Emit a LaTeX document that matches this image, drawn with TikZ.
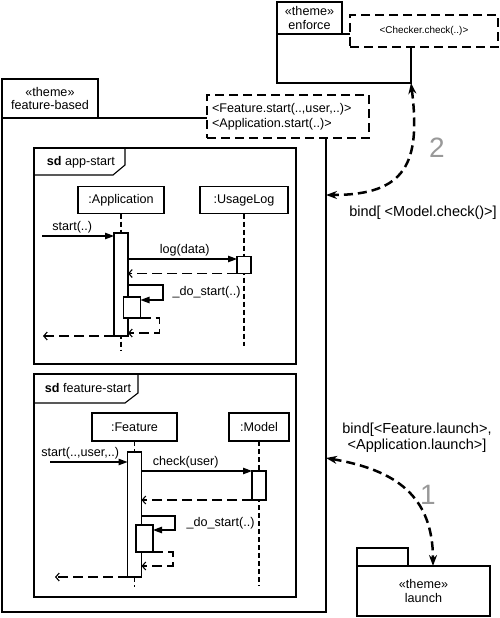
\documentclass[tikz,border=0pt]{standalone}
\usepackage{fontspec}
\setmainfont{Liberation Sans}
\usetikzlibrary{arrows.meta, positioning}

\begin{document}
\begin{tikzpicture}[
  x=1pt, y=-1pt,
  font=\fontsize{12.6}{13.5}\selectfont,
  line width=1.1pt,
  pkgtab/.style={draw, anchor=north west, inner sep=0pt, outer sep=0pt, align=center},
  pkgbody/.style={draw, anchor=north west, inner sep=0pt, outer sep=0pt, align=center},
  bindbox/.style={draw, line width=1.7pt, dash pattern=on 9pt off 5pt, fill=white, anchor=north west, outer sep=0pt},
  frame/.style={draw, anchor=north west, inner sep=0pt, outer sep=0pt},
  head/.style={draw, fill=white, inner sep=0pt, outer sep=0pt, minimum height=27pt},
  actbar/.style={draw, fill=white, inner sep=0pt, outer sep=0pt, minimum width=14pt},
  lifeline/.style={line width=1.3pt, dash pattern=on 5pt off 3pt},
  call/.style={-{Triangle[length=9pt, width=6.5pt]}},
  reply/.style={line width=1.4pt, dash pattern=on 10pt off 5pt, -{Straight Barb[length=3.5pt, width=8pt, line width=1.1pt]}},
  mlab/.style={inner sep=2pt},
  bindarrow/.style={line width=2.5pt, dash pattern=on 9pt off 5pt, {Stealth[length=11pt, width=8pt]}-{Stealth[length=11pt, width=8pt]}},
  bindlab/.style={font=\fontsize{14.5}{16}\selectfont, align=center},
  stepnum/.style={font=\fontsize{28}{28}\selectfont, text=black!40}
]
\useasboundingbox (0,0) rectangle (500,618);

% theme enforce
\node[pkgtab, minimum width=65pt, minimum height=32pt] (enfTab) at (277,2) {«theme»\\enforce};
\node[pkgbody, minimum width=134pt, minimum height=49pt] (enfBody) at (enfTab.south west) {};
\node[bindbox, minimum width=148pt, minimum height=32pt, font=\fontsize{9.9}{11}\selectfont] (enfBind) at (350,15) {<Checker.check(..)>};

% theme feature-based
\node[pkgtab, minimum width=96pt, minimum height=39pt] (featTab) at (2,79) {«theme»\\feature-based};
\node[pkgbody, minimum width=324pt, minimum height=494pt] (featBody) at (featTab.south west) {};
\node[bindbox, inner xsep=5pt, text width=152pt, minimum height=43pt, align=left, font=\fontsize{12.6}{15}\selectfont] (featBind) at (207,95) {<Feature.start(..,user,..)>\\<Application.start(..)>};

% sd app-start
\node[frame, minimum width=262pt, minimum height=216pt] (appFrame) at (34,148) {};
\draw (appFrame.north west) -- ++(91,0) -- ++(0,17) -- ++(-12,10) -- (appFrame.west |- 0,175);
\node[anchor=west] (appTitle) at (43,162) {\textbf{sd} app-start};
\node[head, minimum width=86pt] (appHead) at (121,200) {:Application};
\node[head, minimum width=88pt] (logHead) at (244,200) {:UsageLog};
\draw[lifeline] (appHead) -- (appHead |- 0,351);
\draw[lifeline] (logHead) -- (logHead |- 0,346);
\node[actbar, minimum height=103pt] (appBar) at (121,284.5) {};
\node[actbar, minimum height=17pt] (logAct) at (244,265) {};
\node[actbar, minimum width=17pt, minimum height=21pt] (appNest) at (132,307.5) {};
\coordinate (appIn) at (42,236);
\coordinate (appOut) at (43,336);
\draw[call] (appIn) -- (appIn -| appBar.west) node[mlab, above, pos=0.42] {start(..)};
\draw[call] (appBar.east |- 0,259) -- (logAct.west |- 0,259) node[mlab, above, pos=0.52] {log(data)};
\draw[reply] (logAct.south west) -- (appBar.east |- logAct.south);
\draw[call] (appBar.east |- 0,285) -- ++(35,0) |- (appNest.east |- 0,300) node[mlab, right, pos=0.25, inner xsep=9pt] {\_do\_start(..)};
\draw[reply] (appNest.south east) -- ++(19,0) |- (appBar.east |- 0,333);
\draw[reply] (appBar.south west) -- (appOut);

% sd feature-start
\node[frame, minimum width=262pt, minimum height=223pt] (featFrame) at (34,374) {};
\draw (featFrame.north west) -- ++(104,0) -- ++(0,19) -- ++(-13,10) -- (featFrame.west |- 0,403);
\node[anchor=west] (featTitle) at (41,388) {\textbf{sd} feature-start};
\node[head, minimum width=85pt, minimum height=28pt] (featHead) at (134.5,427) {:Feature};
\node[head, minimum width=60pt, minimum height=28pt] (modelHead) at (259,427) {:Model};
\draw[lifeline] (featHead) -- (featHead |- 0,587);
\draw[lifeline] (modelHead) -- (modelHead |- 0,586);
\node[actbar, minimum height=125pt] (featBar) at (134.5,514.5) {};
\node[actbar, minimum height=29pt] (modelAct) at (259,485.5) {};
\node[actbar, minimum width=17pt, minimum height=27pt] (featNest) at (144.5,538.5) {};
\coordinate (featIn) at (50,462);
\coordinate (featOut) at (55,577);
\draw[call] (featIn) -- (featIn -| featBar.west) node[mlab, above, pos=0.39] {start(..,user,..)};
\draw[call] (featBar.east |- modelAct.north) -- (modelAct.north west) node[mlab, above, pos=0.4] {check(user)};
\draw[reply] (modelAct.south west) -- (featBar.east |- modelAct.south);
\draw[call] (featBar.east |- 0,516) -- ++(33.5,0) |- (featNest.east |- 0,530) node[mlab, right, pos=0.25, inner xsep=11pt] {\_do\_start(..)};
\draw[reply] (featNest.south east) -- ++(20,0) |- (featBar.east |- 0,566);
\draw[reply] (featBar.south west) -- (featOut);

% theme launch
\node[pkgtab, minimum width=51pt, minimum height=18pt] (launchTab) at (357,548) {};
\node[pkgbody, minimum width=133pt, minimum height=50pt] (launchBody) at (launchTab.south west) {«theme»\\launch};

% bindings
\draw[bindarrow] (enfBody.south east) .. controls +(10,80) and +(80,0) .. (featBody.east |- 0,195);
\draw[bindarrow] (featBody.east |- 0,458) .. controls +(70,12) and +(0,-70) .. (launchBody.north -| 433,0);
\node[stepnum] (numTwo) at (437,148) {2};
\node[bindlab] (bindTwo) at (423,213) {bind[ <Model.check()>]};
\node[stepnum] (numOne) at (428,495) {1};
\node[bindlab] (bindOne) at (417,438) {bind[<Feature.launch>,\\<Application.launch>]};
\end{tikzpicture}
\end{document}
